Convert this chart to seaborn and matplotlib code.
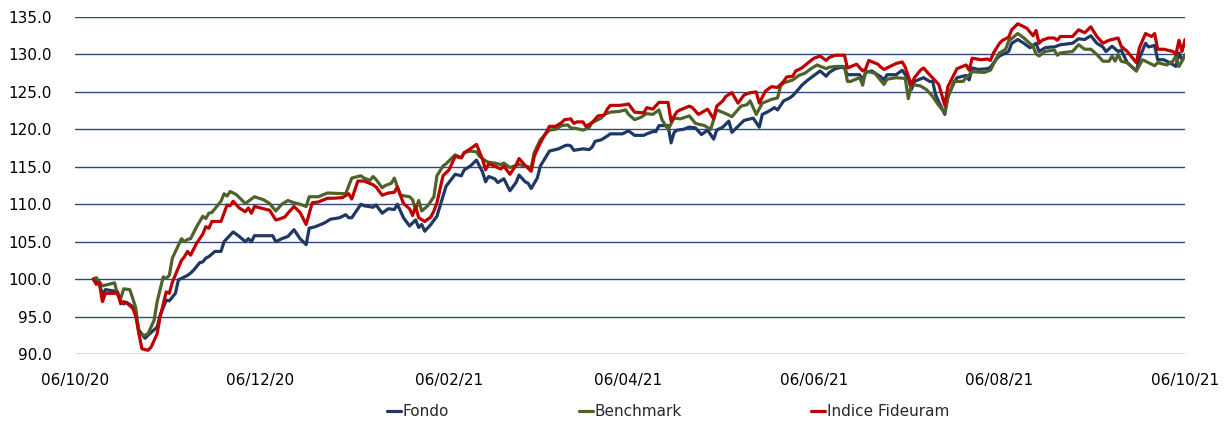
import pandas as pd
import seaborn as sns
import matplotlib.pyplot as plt
import matplotlib.dates as mdates

# giorni dal 06/10/2020 e valori
fondo_giorni = [6, 8, 9, 10, 13, 14, 15, 16, 17, 19, 20, 21, 23, 24, 27, 28, 30, 31, 33, 34,
                36, 37, 38, 39, 41, 42, 43, 44, 46, 48, 49, 52, 54, 56, 57, 58, 59, 62, 65, 66,
                68, 70, 72, 74, 76, 77, 79, 82, 84, 87, 89, 90, 91, 94, 95, 98, 99, 101, 103, 105,
                106, 108, 110, 112, 113, 114, 115, 117, 119, 121, 122, 125, 127, 128, 130, 132, 134, 135, 136, 138,
                139, 141, 143, 145, 146, 148, 149, 150, 152, 153, 156, 157, 159, 161, 162, 163, 164, 167, 169, 170,
                171, 173, 175, 176, 180, 182, 184, 187, 188, 190, 191, 192, 195, 196, 197, 198, 200, 202, 204, 206,
                208, 210, 211, 213, 215, 216, 219, 220, 223, 225, 226, 228, 230, 231, 233, 235, 236, 238, 239, 241,
                243, 245, 247, 248, 250, 252, 253, 254, 258, 259, 260, 262, 265, 266, 267, 270, 272, 273, 274, 275,
                276, 279, 281, 282, 283, 284, 286, 287, 289, 290, 293, 294, 295, 297, 300, 301, 303, 304, 305, 307,
                308, 310, 312, 314, 316, 317, 319, 321, 322, 324, 326, 328, 330, 332, 334, 336, 338, 339, 341, 343,
                344, 346, 349, 350, 352, 353, 355, 356, 358, 360, 362, 363, 364, 365]
fondo_valori = [100.0, 99.4, 97.9, 98.6, 98.4, 98.1, 97.0, 96.7, 96.9, 96.3, 95.4, 93.2, 92.1, 92.5, 93.6, 95.2, 97.2, 97.1, 98.1, 99.9,
                100.3, 100.5, 100.8, 101.2, 102.2, 102.3, 102.8, 103.0, 103.7, 103.7, 105.0, 106.3, 105.7, 105.0, 105.4, 105.0, 105.8, 105.8, 105.8, 105.0,
                105.4, 105.7, 106.6, 105.4, 104.6, 106.8, 107.0, 107.5, 108.0, 108.2, 108.6, 108.2, 108.2, 110.0, 109.8, 109.6, 109.9, 108.8, 109.4, 109.3,
                110.0, 108.2, 107.1, 107.9, 106.9, 107.3, 106.4, 107.3, 108.4, 111.1, 112.4, 114.0, 113.8, 114.6, 115.1, 115.9, 114.3, 113.0, 113.7, 113.4,
                112.9, 113.4, 111.8, 112.9, 113.9, 113.0, 112.8, 112.1, 113.5, 115.1, 117.1, 117.2, 117.4, 117.8, 117.9, 117.8, 117.2, 117.4, 117.3, 117.6,
                118.4, 118.6, 119.1, 119.4, 119.4, 119.8, 119.2, 119.2, 119.4, 119.7, 119.7, 120.5, 120.5, 118.2, 119.6, 119.9, 120.0, 120.3, 120.2, 119.3,
                119.9, 118.7, 119.9, 120.3, 121.1, 119.6, 120.8, 121.2, 121.5, 120.3, 122.0, 122.4, 122.9, 122.6, 123.8, 124.2, 124.5, 125.4, 125.9, 126.6,
                127.2, 127.8, 127.1, 127.6, 128.1, 128.3, 128.2, 127.3, 127.3, 126.6, 127.6, 127.8, 127.0, 126.6, 127.3, 127.3, 127.9, 127.3, 126.8, 125.3,
                126.4, 126.9, 126.4, 126.4, 124.6, 123.7, 122.0, 124.4, 126.2, 126.9, 127.2, 126.6, 128.2, 128.0, 128.1, 128.3, 129.4, 129.8, 130.0, 130.4,
                131.5, 132.0, 131.5, 130.9, 131.5, 130.4, 130.9, 131.0, 131.0, 131.3, 131.4, 131.5, 132.1, 132.0, 132.5, 131.5, 131.0, 130.4, 131.1, 130.4,
                130.6, 128.9, 127.8, 129.5, 131.5, 131.0, 131.2, 129.3, 129.3, 128.9, 128.4, 130.2, 129.3, 129.8]

bench_giorni = [6, 7, 9, 10, 13, 14, 15, 16, 18, 19, 20, 21, 23, 24, 26, 27, 29, 30, 31, 32,
                35, 36, 37, 38, 40, 42, 43, 44, 45, 48, 49, 50, 51, 53, 56, 59, 62, 64, 66, 68,
                70, 72, 74, 76, 77, 80, 83, 89, 91, 94, 95, 97, 98, 99, 101, 102, 104, 105, 106, 107,
                110, 111, 112, 113, 114, 116, 118, 119, 121, 122, 125, 127, 128, 130, 132, 133, 135, 136, 138, 140,
                141, 142, 143, 145, 146, 148, 150, 151, 153, 156, 158, 160, 162, 163, 165, 167, 169, 170, 173, 174,
                176, 179, 181, 182, 184, 186, 188, 190, 192, 193, 195, 197, 199, 202, 204, 207, 209, 211, 214, 216,
                219, 221, 222, 224, 226, 229, 231, 232, 233, 236, 238, 240, 242, 244, 247, 248, 250, 253, 254, 255,
                258, 259, 260, 263, 266, 267, 270, 273, 274, 275, 278, 280, 282, 284, 286, 287, 289, 292, 293, 295,
                299, 301, 303, 304, 306, 307, 310, 312, 315, 316, 317, 319, 322, 323, 324, 328, 330, 332, 334, 336,
                338, 340, 341, 342, 343, 344, 346, 349, 351, 352, 355, 356, 359, 361, 362, 363, 364, 365]
bench_valori = [100.0, 100.2, 99.1, 99.2, 99.5, 97.9, 97.4, 98.7, 98.6, 97.4, 96.1, 92.7, 92.5, 92.7, 94.5, 97.0, 100.3, 100.1, 100.5, 102.8,
                105.4, 105.0, 105.3, 105.4, 107.0, 108.4, 108.1, 108.8, 108.9, 110.4, 111.4, 111.1, 111.7, 111.3, 110.1, 111.0, 110.6, 110.1, 109.1, 110.0,
                110.5, 110.2, 110.0, 109.7, 111.0, 111.0, 111.5, 111.4, 113.5, 113.8, 113.5, 113.2, 113.7, 113.3, 112.2, 112.5, 112.8, 113.5, 112.3, 111.2,
                111.0, 110.6, 109.3, 110.5, 109.1, 109.8, 111.0, 113.8, 115.1, 115.4, 116.6, 116.2, 116.9, 117.1, 117.0, 116.4, 115.8, 115.6, 115.5, 115.3,
                115.5, 115.2, 114.9, 115.2, 115.3, 115.1, 114.9, 116.9, 118.6, 119.9, 120.0, 120.5, 120.6, 120.2, 120.1, 119.9, 120.2, 120.9, 121.5, 122.0,
                122.3, 122.4, 122.6, 122.0, 121.3, 121.6, 122.1, 122.0, 122.6, 121.3, 120.0, 121.5, 121.4, 121.8, 120.8, 120.5, 120.0, 122.6, 122.1, 121.7,
                123.1, 123.3, 123.8, 122.0, 123.5, 124.0, 124.2, 125.8, 126.2, 126.6, 127.2, 127.5, 128.1, 128.6, 128.1, 128.3, 128.4, 128.4, 126.4, 126.4,
                126.9, 125.9, 127.8, 127.5, 126.0, 126.7, 126.9, 126.8, 124.1, 126.0, 125.8, 125.3, 124.4, 123.2, 122.2, 124.2, 126.4, 126.4, 126.9, 127.7,
                127.6, 127.9, 129.5, 130.2, 130.7, 131.8, 132.8, 132.2, 131.1, 130.1, 129.8, 130.4, 130.6, 129.9, 130.2, 130.4, 131.3, 130.7, 130.7, 130.0,
                129.1, 129.1, 129.8, 129.1, 130.0, 129.1, 128.9, 127.8, 129.3, 129.1, 128.5, 128.9, 128.6, 129.1, 129.8, 128.4, 129.1, 130.0]

indice_giorni = [6, 7, 8, 9, 10, 13, 14, 15, 16, 17, 19, 20, 21, 22, 24, 25, 26, 27, 28, 30,
                 31, 32, 35, 36, 37, 38, 40, 42, 43, 44, 45, 48, 49, 50, 51, 52, 54, 56, 57, 58,
                 59, 63, 64, 66, 67, 69, 70, 72, 74, 76, 78, 80, 83, 85, 88, 90, 91, 93, 95, 98,
                 99, 101, 103, 105, 106, 108, 110, 111, 112, 113, 115, 117, 118, 119, 121, 123, 125, 127, 128, 130,
                 132, 134, 135, 136, 138, 140, 141, 143, 145, 146, 148, 150, 151, 153, 156, 158, 160, 161, 163, 164,
                 165, 167, 168, 170, 172, 174, 175, 176, 179, 181, 182, 184, 187, 188, 190, 192, 195, 196, 198, 199,
                 202, 203, 205, 208, 210, 211, 213, 214, 216, 218, 220, 222, 224, 225, 227, 229, 231, 233, 234, 236,
                 237, 239, 242, 243, 245, 247, 248, 250, 253, 254, 257, 259, 260, 261, 264, 265, 266, 267, 270, 272,
                 273, 275, 276, 278, 279, 281, 284, 286, 287, 290, 293, 294, 295, 298, 300, 301, 302, 304, 305, 307,
                 308, 310, 312, 313, 315, 316, 317, 318, 320, 322, 323, 324, 328, 330, 332, 334, 336, 338, 340, 343,
                 344, 346, 349, 350, 352, 354, 355, 356, 358, 361, 362, 363, 364, 365]
indice_valori = [100.0, 99.3, 99.5, 97.0, 98.1, 98.1, 98.3, 96.7, 97.0, 96.8, 96.1, 95.0, 92.7, 90.7, 90.5, 90.9, 91.8, 92.7, 95.0, 98.3,
                 98.1, 99.6, 102.5, 103.0, 103.7, 103.2, 104.8, 106.0, 107.0, 106.8, 107.7, 107.7, 108.8, 109.9, 109.8, 110.4, 109.5, 109.0, 109.5, 108.8,
                 109.7, 109.3, 109.2, 107.9, 108.0, 108.3, 108.8, 109.7, 108.9, 107.3, 110.2, 110.3, 110.8, 110.8, 110.9, 111.4, 110.7, 113.1, 113.1, 112.6,
                 112.3, 111.2, 111.5, 111.6, 112.3, 110.1, 109.4, 108.5, 109.7, 108.2, 107.7, 108.3, 109.1, 110.2, 113.8, 114.6, 116.4, 116.2, 116.9, 117.4,
                 118.0, 116.0, 114.6, 115.4, 115.1, 114.7, 115.1, 114.0, 115.2, 116.1, 115.2, 114.4, 116.4, 118.2, 120.4, 120.4, 120.9, 121.3, 121.4, 120.8,
                 121.0, 121.0, 120.4, 120.9, 121.8, 121.9, 122.7, 123.2, 123.2, 123.3, 123.4, 122.3, 122.2, 122.9, 122.7, 123.6, 123.6, 121.1, 122.4, 122.6,
                 123.1, 122.9, 122.0, 122.7, 121.4, 123.1, 123.8, 124.4, 124.9, 123.5, 124.6, 124.9, 125.0, 123.5, 125.1, 125.7, 125.6, 126.4, 127.0, 127.1,
                 127.8, 128.2, 129.2, 129.5, 129.8, 129.2, 129.6, 129.9, 129.9, 128.2, 128.7, 127.8, 128.1, 129.2, 128.7, 128.3, 128.0, 128.2, 128.8, 129.0,
                 128.3, 125.9, 126.9, 127.9, 128.2, 127.3, 126.0, 123.2, 125.7, 128.1, 128.6, 127.9, 129.5, 129.3, 129.4, 129.2, 130.2, 131.5, 131.9, 132.3,
                 133.3, 134.1, 133.7, 133.5, 132.5, 133.2, 131.5, 131.9, 132.2, 132.2, 131.9, 132.4, 132.4, 133.3, 132.9, 133.7, 132.4, 131.5, 131.9, 132.2,
                 131.1, 130.4, 128.9, 130.9, 132.8, 132.4, 132.8, 130.7, 130.7, 130.4, 130.0, 131.9, 130.4, 132.0]

serie = ["Fondo", "Benchmark", "Indice Fideuram"]
colori = {"Fondo": "#1F3864", "Benchmark": "#4F6228", "Indice Fideuram": "#C00000"}
tick_date = ["2020-10-06", "2020-12-06", "2021-02-06", "2021-04-06",
             "2021-06-06", "2021-08-06", "2021-10-06"]

inizio = pd.Timestamp("2020-10-06")
pezzi = []
for nome, giorni, valori in zip(serie,
                                [fondo_giorni, bench_giorni, indice_giorni],
                                [fondo_valori, bench_valori, indice_valori]):
    pezzi.append(pd.DataFrame({"data": inizio + pd.to_timedelta(giorni, unit="D"),
                               "valore": valori, "serie": nome}))
df = pd.concat(pezzi, ignore_index=True)

sns.set_style("white")
plt.rcParams["font.family"] = ["DejaVu Sans"]

fig = plt.figure(figsize=(12.26, 4.26), dpi=100)
ax = fig.add_axes([0.0612, 0.169, 0.9054, 0.791])

sns.lineplot(data=df, x="data", y="valore", hue="serie", hue_order=serie,
             palette=colori, estimator=None, linewidth=2.3, ax=ax)

ax.set_ylim(90, 135)
ax.set_yticks([90, 95, 100, 105, 110, 115, 120, 125, 130, 135])
ax.yaxis.set_major_formatter(plt.FuncFormatter(lambda v, p: f"{v:.1f}"))
ax.set_xlim(pd.Timestamp(tick_date[0]), pd.Timestamp(tick_date[-1]))
ax.set_xticks(pd.to_datetime(tick_date))
ax.xaxis.set_major_formatter(mdates.DateFormatter("%d/%m/%y"))

ax.grid(axis="y", color="#2E4A7D", linewidth=1)
ax.set_axisbelow(True)
for s in ["top", "right", "left", "bottom"]:
    ax.spines[s].set_visible(False)
ax.tick_params(axis="both", length=0, labelsize=11, colors="#000000")
ax.tick_params(axis="y", pad=17)
ax.tick_params(axis="x", pad=14)
ax.set_xlabel("")
ax.set_ylabel("")

handles, labels = ax.get_legend_handles_labels()
ax.legend_.remove()
fig.legend(handles, labels, loc="center", bbox_to_anchor=(0.545, 0.033), ncol=3,
           frameon=False, fontsize=11, handlelength=0.9, handletextpad=0.1,
           columnspacing=8.5)

fig.savefig("out.png", dpi=100)
